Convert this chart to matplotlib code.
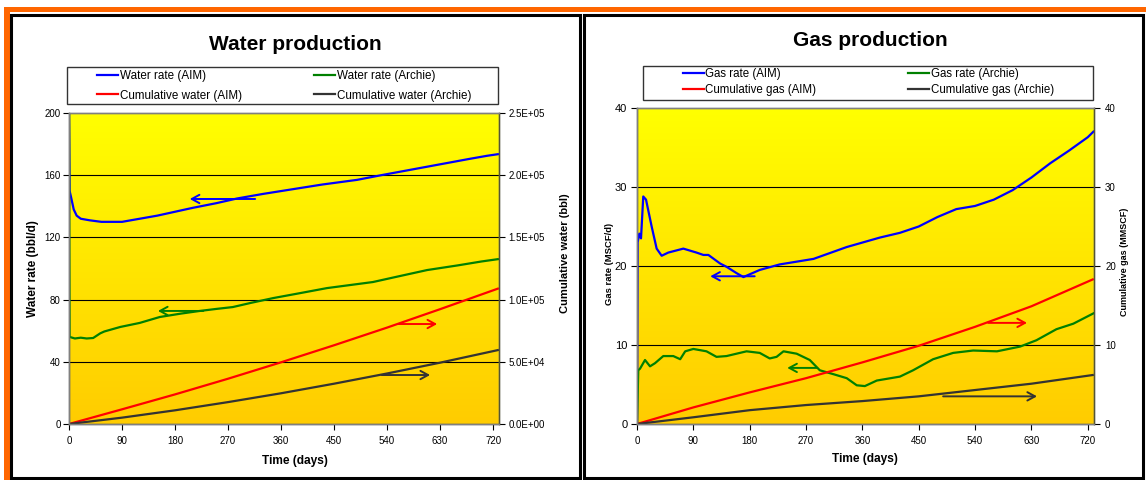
import numpy as np
import matplotlib
matplotlib.use("Agg")
import matplotlib.pyplot as plt
from matplotlib.colors import LinearSegmentedColormap
from matplotlib.lines import Line2D
from matplotlib.patches import Rectangle
from matplotlib.ticker import FuncFormatter

plt.rcParams['font.family'] = ['Liberation Sans', 'DejaVu Sans']

# --- data ---
water_aim_days = [0, 1, 4, 8, 13, 20, 35, 55, 90, 120, 150, 180, 210, 250, 285,
                  330, 380, 430, 489, 530, 580, 630, 680, 710, 728]
water_aim_rate = [200, 150, 145, 138, 134, 132, 131, 130, 130, 132, 134, 136.5, 139,
                  142, 145, 148, 151, 154, 157, 160, 163.5, 167, 170.5, 172.5, 173.5]

water_archie_days = [0, 1, 10, 20, 30, 41, 53, 60, 87, 120, 154, 190, 222, 250, 278,
                     310, 347, 390, 438, 480, 516, 560, 608, 660, 700, 728]
water_archie_rate = [200, 56, 55, 55.5, 55, 55.3, 58.3, 59.5, 62.4, 65, 68.8, 71, 72.7,
                     74, 75.2, 78, 81, 84, 87.4, 89.5, 91.3, 95, 99, 102, 104.5, 106]

cum_days = [0, 90, 180, 270, 360, 450, 540, 630, 728]
cum_water_aim = [0, 11800, 23800, 36400, 49600, 63300, 77500, 92300, 108800]
cum_water_archie = [0, 5100, 11000, 17600, 24700, 32400, 40600, 49300, 59400]

gas_aim_days = [0, 1, 3.7, 6.4, 10, 14.4, 23.4, 31.4, 39.4, 50, 74, 95, 106, 114, 133,
                143, 159, 170, 196, 228, 282, 335, 388, 420, 450, 480, 510, 540, 570,
                600, 630, 660, 690, 720, 729]
gas_aim_rate = [0, 23, 24.1, 23.5, 28.8, 28.4, 25, 22.2, 21.3, 21.7, 22.2, 21.7, 21.4,
                21.4, 20.3, 19.9, 19.1, 18.6, 19.5, 20.2, 20.9, 22.4, 23.6, 24.2, 25,
                26.2, 27.2, 27.6, 28.4, 29.6, 31.2, 33, 34.6, 36.3, 37]

gas_archie_days = [0, 2, 4.8, 12.8, 20.8, 28.8, 42, 58, 69, 77, 90, 111, 127, 143, 175,
                   196, 212, 223, 234, 255, 276, 292, 314, 335, 351, 364, 383, 420, 441,
                   473, 505, 537, 575, 612, 638, 670, 697, 729]
gas_archie_rate = [0, 6.8, 7.0, 8.1, 7.3, 7.7, 8.6, 8.6, 8.2, 9.2, 9.5, 9.2, 8.5, 8.6,
                   9.2, 9.0, 8.3, 8.5, 9.2, 8.9, 8.1, 6.8, 6.3, 5.8, 4.9, 4.8, 5.5, 6.0,
                   6.8, 8.2, 9.0, 9.3, 9.2, 9.8, 10.6, 12.0, 12.7, 14.0]

cum_gas_aim = [0, 2.1, 4.0, 5.8, 7.8, 9.9, 12.3, 14.9, 18.3]
cum_gas_archie = [0, 0.85, 1.75, 2.4, 2.9, 3.5, 4.3, 5.1, 6.2]

day_ticks = [0, 90, 180, 270, 360, 450, 540, 630, 720]

BLUE, GREEN, RED, DARK = '#0000FF', '#008000', '#FF0000', '#333333'
W, H = 1146, 480


def fx(px):
    return px / W


def fy(py):
    return 1 - py / H


fig = plt.figure(figsize=(W / 100, H / 100), dpi=100)
fig.patch.set_facecolor('white')

# orange frame bits and the two black panel boxes (behind the axes)
fig.patches.append(Rectangle((fx(4), fy(12)), 1, 5 / H, transform=fig.transFigure,
                             facecolor='#FF6600', edgecolor='none', zorder=-2))
fig.patches.append(Rectangle((fx(4), 0), 6 / W, fy(7), transform=fig.transFigure,
                             facecolor='#FF6600', edgecolor='none', zorder=-2))
for x0, x1 in [(11, 580), (584, 1143)]:
    fig.patches.append(Rectangle((fx(x0), fy(478)), (x1 - x0) / W, 463 / H,
                                 transform=fig.transFigure, facecolor='white',
                                 edgecolor='black', linewidth=2.2, zorder=-2))

grad = LinearSegmentedColormap.from_list('yg', ['#FFCC00', '#FFFF00'])


def setup(ax, ax2, ymax, yticks, cmax, cticks):
    ax.patch.set_visible(False)
    ax2.patch.set_visible(False)
    ax.imshow(np.linspace(1, 0, 256).reshape(-1, 1), cmap=grad, aspect='auto',
              extent=[0, 1, 0, 1], transform=ax.transAxes, zorder=0)
    ax.set_xlim(0, 730)
    ax.set_ylim(0, ymax)
    ax2.set_ylim(0, cmax)
    ax.set_xticks(day_ticks)
    ax.set_yticks(yticks)
    ax2.set_yticks(cticks)
    for y in yticks[1:-1]:
        ax.axhline(y, color='black', linewidth=0.8, zorder=1)
    for a in (ax, ax2):
        for s in a.spines.values():
            s.set_color('#808080')
            s.set_linewidth(1)
    ax.spines['left'].set_color('#555555')
    ax.spines['bottom'].set_color('#555555')
    ax2.spines['right'].set_color('#555533')
    ax.tick_params(axis='both', direction='out', length=4, width=0.8, color='black')
    ax2.tick_params(axis='y', direction='out', length=4, width=0.8, color='black')


def add_legend(ax, handles, labels, x0, x1, y0, y1, box, fs, spacing):
    leg = ax.legend(handles, labels, ncol=2, mode='expand', frameon=False,
                    loc='center', bbox_to_anchor=(fx(x0), fy(y1), fx(x1) - fx(x0),
                                                  fy(y0) - fy(y1)),
                    bbox_transform=fig.transFigure, borderaxespad=0, borderpad=0,
                    fontsize=fs, handlelength=1.8, handletextpad=0.15,
                    labelspacing=spacing)
    leg.set_zorder(10)
    bx0, by0, bx1, by1 = box
    fig.patches.append(Rectangle((fx(bx0), fy(by1)), (bx1 - bx0) / W,
                                 (by1 - by0) / H, transform=fig.transFigure,
                                 facecolor='white', edgecolor='#333333',
                                 linewidth=1, zorder=-1))


def arrow(ax, x_tail, x_head, y, color):
    ax.annotate('', xy=(x_head, y), xytext=(x_tail, y), zorder=6,
                arrowprops=dict(arrowstyle='->,head_length=0.55,head_width=0.3',
                                color=color, lw=1.4, shrinkA=0, shrinkB=0))


# ---------------- Water production ----------------
axw = fig.add_axes([fx(69), fy(424), (499 - 69) / W, 311 / H])
axw2 = axw.twinx()
setup(axw, axw2, 200, [0, 40, 80, 120, 160, 200], 2.5e5,
      [0, 5e4, 1e5, 1.5e5, 2e5, 2.5e5])
axw.plot(water_aim_days, water_aim_rate, color=BLUE, lw=1.6, zorder=3)
axw.plot(water_archie_days, water_archie_rate, color=GREEN, lw=1.6, zorder=3)
axw2.plot(cum_days, cum_water_aim, color=RED, lw=1.6)
axw2.plot(cum_days, cum_water_archie, color=DARK, lw=1.6)
axw2.yaxis.set_major_formatter(FuncFormatter(lambda v, p: f'{v:.1E}'))
axw.tick_params(axis='y', labelsize=7, pad=2)
axw.tick_params(axis='x', labelsize=7, pad=5)
axw2.tick_params(axis='y', labelsize=7, pad=3)

arrow(axw, 316, 205, 144.7, BLUE)
arrow(axw, 228, 151, 72.7, GREEN)
arrow(axw, 559, 625, 64.3, RED)
arrow(axw, 531, 613, 31.5, DARK)

axw.set_ylabel('Water rate (bbl/d)', fontsize=8.5, fontweight='bold')
axw.yaxis.set_label_coords(-0.070, 0.5)
axw2.set_ylabel('Cumulative water (bbl)', fontsize=8, fontweight='bold')
axw2.yaxis.set_label_coords(1.142, 0.55)
axw.set_xlabel('Time (days)', fontsize=8.6, fontweight='bold')
axw.xaxis.set_label_coords(0.526, -0.10)
fig.text(fx(295), fy(44), 'Water production', ha='center', va='center',
         fontsize=15, fontweight='bold')

hw = [Line2D([], [], color=c, lw=1.6) for c in (BLUE, RED, GREEN, DARK)]
add_legend(axw, hw, ['Water rate (AIM)', 'Cumulative water (AIM)',
                     'Water rate (Archie)', 'Cumulative water (Archie)'],
           97, 471, 69, 103, (67, 67, 498, 104), 8.4, 0.6)

# ---------------- Gas production ----------------
axg = fig.add_axes([fx(637), fy(424), (1094 - 637) / W, 316 / H])
axg2 = axg.twinx()
setup(axg, axg2, 40, [0, 10, 20, 30, 40], 40, [0, 10, 20, 30, 40])
axg.plot(gas_aim_days, gas_aim_rate, color=BLUE, lw=1.6, zorder=3)
axg.plot(gas_archie_days, gas_archie_rate, color=GREEN, lw=1.6, zorder=3)
axg2.plot(cum_days, cum_gas_aim, color=RED, lw=1.6)
axg2.plot(cum_days, cum_gas_archie, color=DARK, lw=1.6)
axg.tick_params(axis='y', labelsize=8, pad=3)
axg.tick_params(axis='x', labelsize=7, pad=5)
axg2.tick_params(axis='y', labelsize=7, pad=4)

arrow(axg, 188, 117, 18.7, BLUE)
arrow(axg, 288, 240, 7.1, GREEN)
arrow(axg, 561, 623, 12.8, RED)
arrow(axg, 489, 639, 3.5, DARK)

axg.set_ylabel('Gas rate (MSCF/d)', fontsize=6.8, fontweight='bold')
axg.yaxis.set_label_coords(-0.050, 0.506)
axg2.set_ylabel('Cumulative gas (MMSCF)', fontsize=6.5, fontweight='bold')
axg2.yaxis.set_label_coords(1.057, 0.513)
axg.set_xlabel('Time (days)', fontsize=8.6, fontweight='bold')
axg.xaxis.set_label_coords(0.499, -0.092)
fig.text(fx(870), fy(40), 'Gas production', ha='center', va='center',
         fontsize=15, fontweight='bold')

hg = [Line2D([], [], color=c, lw=1.6) for c in (BLUE, RED, GREEN, DARK)]
add_legend(axg, hg, ['Gas rate (AIM)', 'Cumulative gas (AIM)',
                     'Gas rate (Archie)', 'Cumulative gas (Archie)'],
           683, 1054, 67, 97, (643, 66, 1093, 100), 8.3, 0.3)

fig.savefig('out.png', dpi=100)
